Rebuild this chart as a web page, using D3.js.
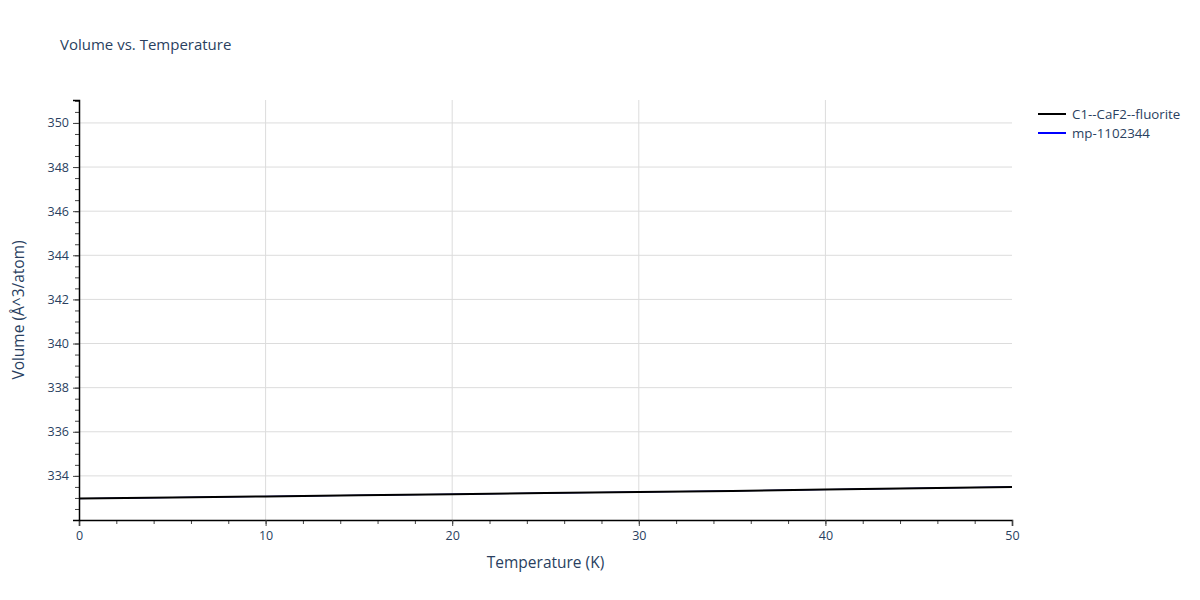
<!DOCTYPE html>
<html>
<head>
<meta charset="utf-8">
<script src="https://cdn.jsdelivr.net/npm/d3@7"></script>
<style>
  body { margin: 0; background: white; }
  text { font-family: "Open Sans", sans-serif; }
</style>
</head>
<body>
<div id="chart"></div>
<script>
// chart data
const temperatures = [0, 5, 10, 15, 20, 25, 30, 35, 40, 45, 50];
const volumeFluorite = [332.97, 333.02, 333.07, 333.12, 333.17, 333.22, 333.27, 333.32, 333.38, 333.44, 333.50];
const volumeMp = [332.97, 333.02, 333.07, 333.12, 333.17, 333.22, 333.27, 333.32, 333.38, 333.44, 333.50];
const seriesNames = ["C1--CaF2--fluorite", "mp-1102344"];
const seriesColors = ["black", "blue"];
const xTicks = [0, 10, 20, 30, 40, 50];
const yTicks = [334, 336, 338, 340, 342, 344, 346, 348, 350];

const width = 1200, height = 600;
const margin = { top: 100, left: 79, right: 188, bottom: 80 };
const textColor = "#2a3f5f";

const svg = d3.select("#chart").append("svg")
  .attr("width", width)
  .attr("height", height);

const x = d3.scaleLinear().domain([0, 50]).range([margin.left, width - margin.right]);
const y = d3.scaleLinear().domain([332, 351.04]).range([height - margin.bottom, margin.top]);

// grid lines
svg.append("g").selectAll("line")
  .data(xTicks.filter(d => d > 0 && d < 50))
  .join("line")
  .attr("x1", d => x(d)).attr("x2", d => x(d))
  .attr("y1", margin.top).attr("y2", height - margin.bottom)
  .attr("stroke", "#dcdcdc");

svg.append("g").selectAll("line")
  .data(yTicks)
  .join("line")
  .attr("x1", margin.left).attr("x2", width - margin.right)
  .attr("y1", d => y(d)).attr("y2", d => y(d))
  .attr("stroke", "#dcdcdc");

// lines (blue underneath, hidden by the black one)
const line = d3.line().x((d, i) => x(temperatures[i])).y(d => y(d));
svg.append("path")
  .datum(volumeMp)
  .attr("d", line)
  .attr("fill", "none")
  .attr("stroke", seriesColors[1])
  .attr("stroke-width", 1);
svg.append("path")
  .datum(volumeFluorite)
  .attr("d", line)
  .attr("fill", "none")
  .attr("stroke", seriesColors[0])
  .attr("stroke-width", 2);

// x axis
const xMinor = d3.range(0, 50.01, 2);
const xAxis = svg.append("g").attr("transform", `translate(0,${height - margin.bottom})`);
xAxis.call(d3.axisBottom(x).tickValues(xMinor).tickSize(4).tickFormat(""))
  .call(g => g.select(".domain").remove());
xAxis.append("g").call(d3.axisBottom(x).tickValues(xTicks).tickSize(6).tickPadding(5).tickFormat(d3.format("d")))
  .call(g => g.selectAll("text").attr("fill", textColor).style("font-size", "12.5px"));
xAxis.selectAll("line").attr("stroke", "#444");
xAxis.selectAll(".domain").attr("stroke", "black").attr("stroke-width", 1.5);

// y axis
const yMinor = d3.range(332, 351.01, 0.5);
const yAxis = svg.append("g").attr("transform", `translate(${margin.left},0)`);
yAxis.call(d3.axisLeft(y).tickValues(yMinor).tickSize(4).tickFormat(""))
  .call(g => g.select(".domain").remove());
yAxis.append("g").call(d3.axisLeft(y).tickValues(yTicks).tickSize(6).tickPadding(4).tickFormat(d3.format("d")))
  .call(g => g.selectAll("text").attr("fill", textColor).style("font-size", "12.5px"));
yAxis.selectAll("line").attr("stroke", "#444");
yAxis.selectAll(".domain").attr("stroke", "black").attr("stroke-width", 1.5);

// title
svg.append("text")
  .attr("x", 60)
  .attr("y", 50)
  .text("Volume vs. Temperature")
  .attr("fill", textColor)
  .style("font-size", "15px");

// axis titles
svg.append("text")
  .attr("x", (margin.left + width - margin.right) / 2)
  .attr("y", 568)
  .attr("text-anchor", "middle")
  .text("Temperature (K)")
  .attr("fill", textColor)
  .style("font-size", "15.5px");

svg.append("text")
  .attr("transform", `translate(24,${(margin.top + height - margin.bottom) / 2}) rotate(-90)`)
  .attr("text-anchor", "middle")
  .text("Volume (Å^3/atom)")
  .attr("fill", textColor)
  .style("font-size", "15.5px");

// legend
const legend = svg.append("g").attr("transform", "translate(1038,114)");
seriesNames.forEach((name, i) => {
  legend.append("line")
    .attr("x1", 0).attr("x2", 28)
    .attr("y1", i * 19).attr("y2", i * 19)
    .attr("stroke", seriesColors[i])
    .attr("stroke-width", 2);
  legend.append("text")
    .attr("x", 34)
    .attr("y", i * 19)
    .attr("dy", "0.35em")
    .text(name)
    .attr("fill", textColor)
    .style("font-size", "13.3px");
});
</script>
</body>
</html>
